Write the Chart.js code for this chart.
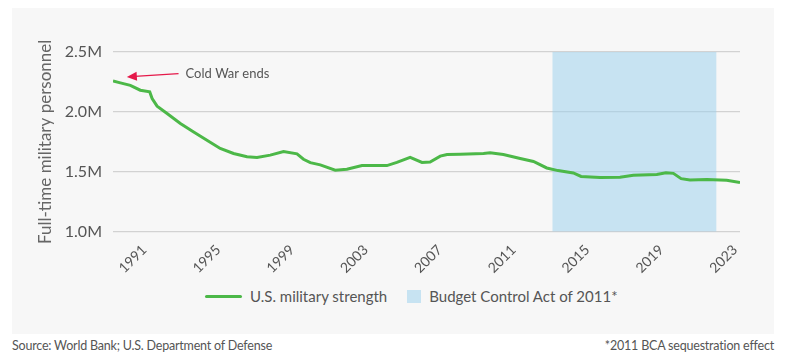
<!DOCTYPE html>
<html>
<head>
<meta charset="utf-8">
<script src="https://cdn.jsdelivr.net/npm/chart.js@4.4.1/dist/chart.umd.min.js"></script>
<style>
  body { margin: 0; width: 786px; height: 360px; background: #fff; font-family: Lato, sans-serif; position: relative; overflow: hidden; }
  #panel { position: absolute; left: 12px; top: 8px; width: 762px; height: 326px; background: #f7f7f7; }
  #myChart { position: absolute; left: 0; top: 0; }
  #legend { position: absolute; left: 193px; top: 279px; height: 18px; display: flex; align-items: center; font-size: 15px; color: #555; white-space: nowrap; }
  .swatch-line { width: 37px; height: 3px; background: #4cb848; border-radius: 2px; margin-right: 8px; }
  .swatch-box { width: 14px; height: 13px; background: #c7e3f2; margin-left: 20px; margin-right: 8px; }
  .foot { position: absolute; top: 338px; font-size: 12.5px; color: #555; letter-spacing: -0.2px; }
</style>
</head>
<body>
<div id="panel">
  <canvas id="myChart" width="762" height="275"></canvas>
  <div id="legend">
    <span class="swatch-line"></span><span>U.S. military strength</span>
    <span class="swatch-box"></span><span>Budget Control Act of 2011*</span>
  </div>
</div>
<div class="foot" style="left:12px">Source: World Bank; U.S. Department of Defense</div>
<div class="foot" style="right:12px">*2011 BCA sequestration effect</div>

<script>
// years (fractional) and full-time personnel in millions
const years = [1989.3, 1989.7, 1990.24, 1990.78, 1991.29, 1991.42, 1991.69, 1992.23, 1992.95, 1993.67,
  1994.39, 1995.11, 1995.83, 1996.56, 1997.1, 1997.82, 1998.54, 1999.27, 1999.62, 1999.99,
  2000.53, 2001.34, 2001.97, 2002.79, 2004.14, 2004.68, 2005.4, 2006.04, 2006.48, 2007.03,
  2007.4, 2008.11, 2009.37, 2009.73, 2010.45, 2011.36, 2012.08, 2012.8, 2013.41, 2014.24,
  2014.66, 2015.69, 2016.77, 2017.49, 2018.76, 2019.26, 2019.66, 2020.08, 2020.56, 2021.47,
  2022.55, 2023.27];
const strength = [2.258, 2.242, 2.222, 2.181, 2.167, 2.112, 2.048, 1.987, 1.903, 1.833,
  1.764, 1.695, 1.653, 1.625, 1.62, 1.639, 1.67, 1.65, 1.605, 1.576,
  1.558, 1.514, 1.522, 1.552, 1.552, 1.578, 1.62, 1.578, 1.582, 1.631,
  1.645, 1.647, 1.653, 1.658, 1.645, 1.611, 1.586, 1.532, 1.51, 1.49,
  1.461, 1.452, 1.455, 1.472, 1.478, 1.492, 1.487, 1.443, 1.432, 1.436,
  1.429, 1.411];

const tickYears = [1991, 1995, 1999, 2003, 2007, 2011, 2015, 2019, 2023];
const yTicks = [1.0, 1.5, 2.0, 2.5];

// BCA shaded period
const bcaStart = 2013.1;
const bcaEnd = 2022.0;

const seriesLabels = ['U.S. military strength', 'Budget Control Act of 2011*'];
const yTitle = 'Full-time military personnel';
const noteText = 'Cold War ends';
const noteTip = { x: 1990.05, y: 2.292 };
const noteTail = { x: 1992.85, y: 2.32 };

const textColor = '#555';

// draws the "Cold War ends" arrow in data coordinates
const notePlugin = {
  id: 'note',
  afterDatasetsDraw(chart) {
    const { ctx, scales: { x, y } } = chart;
    const tx = x.getPixelForValue(noteTip.x), ty = y.getPixelForValue(noteTip.y);
    const sx = x.getPixelForValue(noteTail.x), sy = y.getPixelForValue(noteTail.y);
    const ang = Math.atan2(ty - sy, tx - sx);
    ctx.save();
    ctx.strokeStyle = '#e5194a';
    ctx.fillStyle = '#e5194a';
    ctx.lineWidth = 1.3;
    ctx.beginPath();
    ctx.moveTo(sx, sy);
    ctx.lineTo(tx - 8 * Math.cos(ang), ty - 8 * Math.sin(ang));
    ctx.stroke();
    ctx.beginPath();
    ctx.moveTo(tx, ty);
    ctx.lineTo(tx - 10 * Math.cos(ang) + 4.5 * Math.sin(ang), ty - 10 * Math.sin(ang) - 4.5 * Math.cos(ang));
    ctx.lineTo(tx - 10 * Math.cos(ang) - 4.5 * Math.sin(ang), ty - 10 * Math.sin(ang) + 4.5 * Math.cos(ang));
    ctx.closePath();
    ctx.fill();
    ctx.fillStyle = textColor;
    ctx.font = '13px Lato, sans-serif';
    ctx.textBaseline = 'middle';
    ctx.fillText(noteText, sx + 7, sy);
    ctx.restore();
  }
};

function makeChart() {
  const ctx = document.getElementById('myChart');

  // eslint-disable-next-line no-new
  const myChart = new Chart(ctx, {
    type: 'line',
    data: {
      datasets: [{
        label: seriesLabels[0],
        data: years.map((yr, i) => ({ x: yr, y: strength[i] })),
        borderColor: '#4cb848',
        borderWidth: 3,
        pointRadius: 0,
        tension: 0,
        fill: false,
        order: 1
      }, {
        label: seriesLabels[1],
        data: [{ x: bcaStart, y: yTicks[yTicks.length - 1] }, { x: bcaEnd, y: yTicks[yTicks.length - 1] }],
        borderWidth: 0,
        pointRadius: 0,
        backgroundColor: 'rgba(151, 207, 237, 0.5)',
        fill: 'start',
        order: 2
      }]
    },
    options: {
      responsive: false,
      animation: false,
      devicePixelRatio: 1,
      layout: { padding: { top: 44, right: 34, left: 0, bottom: 0 } },
      plugins: {
        legend: { display: false },
        tooltip: { enabled: false }
      },
      scales: {
        x: {
          type: 'linear',
          min: years[0],
          max: years[years.length - 1],
          afterBuildTicks: (scale) => { scale.ticks = tickYears.map(v => ({ value: v })); },
          afterFit: (scale) => { scale.height = 51.3; },
          grid: { display: false },
          border: { display: false },
          ticks: {
            autoSkip: false,
            maxRotation: 45,
            minRotation: 45,
            padding: 2,
            color: textColor,
            font: { family: 'Lato', size: 14 },
            callback: (v) => String(v)
          }
        },
        y: {
          min: yTicks[0],
          max: yTicks[yTicks.length - 1],
          afterBuildTicks: (scale) => { scale.ticks = yTicks.map(v => ({ value: v })); },
          afterFit: (scale) => { scale.width = 101; },
          grid: { color: '#d2d2d2', lineWidth: 1.2, drawTicks: false },
          border: { display: false },
          title: {
            display: true,
            text: yTitle,
            color: '#666',
            font: { family: 'Lato', size: 17 },
            padding: { top: 23, bottom: 0 }
          },
          ticks: {
            padding: 11,
            color: textColor,
            font: { family: 'Lato', size: 16 },
            callback: (v) => v.toFixed(1) + 'M'
          }
        }
      }
    },
    plugins: [notePlugin]
  });
  return myChart;
}

document.addEventListener('DOMContentLoaded', function() {
  makeChart();
});
</script>
</body>
</html>
